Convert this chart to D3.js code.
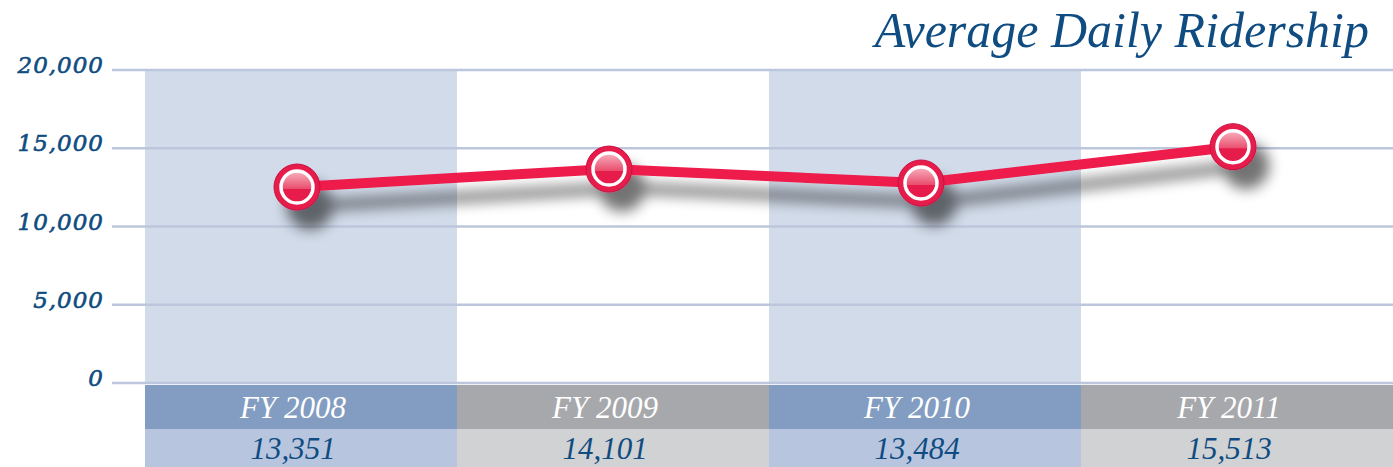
<!DOCTYPE html>
<html>
<head>
<meta charset="utf-8">
<script src="https://cdn.jsdelivr.net/npm/d3@7"></script>
<style>
  body { margin: 0; background: #fff; }
  svg { display: block; }
</style>
</head>
<body>
<svg></svg>
<script>
const years = ['FY 2008', 'FY 2009', 'FY 2010', 'FY 2011'];
const ridership = [13351, 14101, 13484, 15513];
// where the markers actually sit on the reference (they don't quite match the table)
const plotted = [12520, 13670, 12780, 15100];
const yTicks = [0, 5000, 10000, 15000, 20000];

const width = 1393, height = 467;
const blue = '#0f4c81';

const svg = d3.select('svg')
  .attr('width', width)
  .attr('height', height);

const xScale = d3.scaleBand()
  .domain(years)
  .range([145, width]);

const yScale = d3.scaleLinear()
  .domain([0, 20000])
  .range([383, 70]);

// labels and dots sit a bit left of the column middles
const mid = d => xScale(d) + xScale.bandwidth() / 2;

const defs = svg.append('defs');

const shadow = defs.append('filter')
  .attr('id', 'shadow')
  .attr('x', '-20%').attr('y', '-50%')
  .attr('width', '140%').attr('height', '250%');
shadow.append('feGaussianBlur').attr('in', 'SourceAlpha').attr('stdDeviation', 7);
shadow.append('feOffset').attr('dx', 13).attr('dy', 19).attr('result', 'b');
shadow.append('feComponentTransfer').append('feFuncA').attr('type', 'linear').attr('slope', 0.55);
const merge = shadow.append('feMerge');
merge.append('feMergeNode');
merge.append('feMergeNode').attr('in', 'SourceGraphic');

const gloss = defs.append('linearGradient')
  .attr('id', 'gloss')
  .attr('x1', 0).attr('y1', 0).attr('x2', 0).attr('y2', 1);
gloss.append('stop').attr('offset', '0%').attr('stop-color', '#f7b3c0');
gloss.append('stop').attr('offset', '55%').attr('stop-color', '#ea4f6f');
gloss.append('stop').attr('offset', '56%').attr('stop-color', '#e61a4b');
gloss.append('stop').attr('offset', '100%').attr('stop-color', '#e61a4b');

// shaded columns
svg.append('g').selectAll('rect').data(years)
  .enter().append('rect')
  .attr('x', d => xScale(d))
  .attr('y', yScale(20000))
  .attr('width', xScale.bandwidth())
  .attr('height', yScale(0) - yScale(20000))
  .attr('fill', (d, i) => i % 2 === 0 ? '#d1dbe9' : '#fff');

// gridlines + labels
const grid = svg.append('g').selectAll('g').data(yTicks)
  .enter().append('g')
  .attr('transform', d => `translate(0, ${yScale(d)})`);

grid.append('line')
  .attr('x1', 112).attr('x2', width)
  .attr('stroke', '#bcc7dd')
  .attr('stroke-width', 2.5);

grid.append('text')
  .text(d => d3.format(',')(d))
  .attr('x', 104)
  .attr('y', 3)
  .attr('text-anchor', 'end')
  .attr('font-family', 'DejaVu Serif')
  .attr('font-style', 'italic')
  .attr('font-size', 23)
  .attr('letter-spacing', 1)
  .attr('fill', blue)
  .attr('stroke', blue)
  .attr('stroke-width', 0.6);

// table rows
const table = svg.append('g');
table.selectAll('.head').data(years)
  .enter().append('rect')
  .attr('x', d => xScale(d))
  .attr('y', 385)
  .attr('width', xScale.bandwidth())
  .attr('height', 44)
  .attr('fill', (d, i) => i % 2 === 0 ? '#839dc2' : '#a7a8ac');

table.selectAll('.val').data(years)
  .enter().append('rect')
  .attr('x', d => xScale(d))
  .attr('y', 429)
  .attr('width', xScale.bandwidth())
  .attr('height', height - 429)
  .attr('fill', (d, i) => i % 2 === 0 ? '#b8c5de' : '#d1d2d4');

table.selectAll('.yr').data(years)
  .enter().append('text')
  .text(d => d)
  .attr('x', d => mid(d) - 8)
  .attr('y', 418)
  .attr('text-anchor', 'middle')
  .attr('font-family', 'Liberation Serif')
  .attr('font-style', 'italic')
  .attr('font-size', 31)
  .attr('fill', '#fff');

table.selectAll('.num').data(ridership)
  .enter().append('text')
  .text(d => d3.format(',')(d))
  .attr('x', (d, i) => mid(years[i]) - 8)
  .attr('y', 459)
  .attr('text-anchor', 'middle')
  .attr('font-family', 'Liberation Serif')
  .attr('font-style', 'italic')
  .attr('font-size', 31)
  .attr('fill', blue);

// title
svg.append('text')
  .text('Average Daily Ridership')
  .attr('x', 1369)
  .attr('y', 47)
  .attr('text-anchor', 'end')
  .attr('font-family', 'Liberation Serif')
  .attr('font-style', 'italic')
  .attr('font-size', 50)
  .attr('fill', blue);

// line + markers
const xPos = (d, i) => mid(years[i]) - 4;
const series = svg.append('g').attr('filter', 'url(#shadow)');

const line = d3.line()
  .x(xPos)
  .y(d => yScale(d));

series.append('path')
  .datum(plotted)
  .attr('d', line)
  .attr('fill', 'none')
  .attr('stroke', '#ed1a4b')
  .attr('stroke-width', 10)
  .attr('stroke-linejoin', 'round');

const dots = series.selectAll('.dot').data(plotted)
  .enter().append('g')
  .attr('transform', (d, i) => `translate(${xPos(d, i)}, ${yScale(d)})`);

dots.append('circle')
  .attr('r', 23)
  .attr('fill', '#e61a4b')
  .attr('stroke', '#c91040')
  .attr('stroke-width', 1);

dots.append('circle')
  .attr('r', 16)
  .attr('fill', 'url(#gloss)')
  .attr('stroke', '#fff')
  .attr('stroke-width', 3.5);
</script>
</body>
</html>
